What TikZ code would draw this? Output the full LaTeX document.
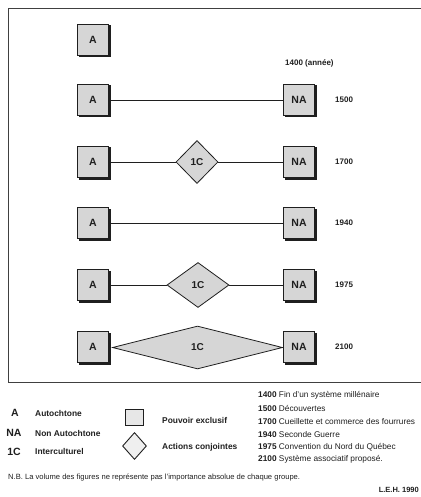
\documentclass[tikz,border=0pt]{standalone}
\usepackage{fontspec}
\setmainfont{Liberation Sans}
\usetikzlibrary{shapes.geometric}
\definecolor{boxfill}{gray}{0.84}
\definecolor{inkc}{gray}{0.12}
\tikzset{
  pbox/.style={draw=inkc, line width=0.9pt, fill=boxfill, minimum width=31pt, minimum height=31pt, inner sep=0pt, font=\fontsize{10.5}{11}\selectfont\bfseries, text=inkc},
  idia/.style={draw=inkc, line width=0.8pt, fill=boxfill, diamond, inner sep=0pt, font=\fontsize{10}{11}\selectfont\bfseries, text=inkc},
  conn/.style={draw=inkc, line width=0.7pt},
  yr/.style={anchor=west, inner sep=0pt, font=\fontsize{8}{9}\selectfont\bfseries, text=inkc},
  leg/.style={anchor=west, inner sep=0pt, font=\fontsize{8.4}{9}\selectfont\bfseries, text=inkc},
  legbig/.style={anchor=center, inner sep=0pt, font=\fontsize{10.5}{11}\selectfont\bfseries, text=inkc},
  lst/.style={anchor=west, inner sep=0pt, font=\fontsize{8.3}{9}\selectfont, text=inkc},
  shad/.style={fill=inkc}
}
\newcommand{\shbox}[4]{% name, x, y, label
  \fill[shad] (#2-14.5,#3-14.5) rectangle (#2+17.5,#3+17.5);
  \node[pbox] (#1) at (#2,#3) {#4};
}
\begin{document}
\begin{tikzpicture}[x=1pt,y=-1pt]
\useasboundingbox (0,0) rectangle (420,497);
% frame
\draw[draw=inkc!85, line width=1pt] (426,9) -- (8,9) -- (8,382) -- (426,382);
% rows
\shbox{a1}{93}{40}{A}
\shbox{a2}{93}{100}{A}
\shbox{na2}{299}{100}{NA}
\shbox{a3}{93}{162}{A}
\shbox{na3}{299}{162}{NA}
\shbox{a4}{93}{223}{A}
\shbox{na4}{299}{223}{NA}
\shbox{a5}{93}{285}{A}
\shbox{na5}{299}{285}{NA}
\shbox{a6}{93}{347}{A}
\shbox{na6}{299}{347}{NA}
\node[idia, minimum width=42pt, minimum height=43pt] (c3) at (197,162) {1C};
\node[idia, minimum width=62pt, minimum height=45pt] (c5) at (198,285) {1C};
\node[idia, minimum width=170pt, minimum height=43pt] (c6) at (197.5,347.5) {1C};
\draw[conn] (a2) -- (na2);
\draw[conn] (a3) -- (c3);
\draw[conn] (c3) -- (na3);
\draw[conn] (a4) -- (na4);
\draw[conn] (a5) -- (c5);
\draw[conn] (c5) -- (na5);
% year labels
\node[yr] (y1400) at (285,63) {1400 (année)};
\node[yr] (y1500) at (335,100) {1500};
\node[yr] (y1700) at (335,162) {1700};
\node[yr] (y1940) at (335,223) {1940};
\node[yr] (y1975) at (335,285) {1975};
\node[yr] (y2100) at (335,347) {2100};
% legend
\node[legbig] (lA) at (15,413) {A};
\node[legbig] (lNA) at (14,433) {NA};
\node[legbig] (l1C) at (14,452) {1C};
\node[leg] (tA) at (35,413) {Autochtone};
\node[leg] (tNA) at (35,433) {Non Autochtone};
\node[leg] (t1C) at (35,451) {Interculturel};
\node[draw=inkc, line width=0.9pt, fill=boxfill!60, minimum width=18pt, minimum height=16pt, inner sep=0pt] (lbox) at (134,417.5) {};
\node[draw=inkc, line width=0.9pt, fill=boxfill!40, diamond, inner sep=0pt, minimum width=24pt, minimum height=27pt] (ldia) at (134.5,446) {};
\node[leg] (tbox) at (162,420) {Pouvoir exclusif};
\node[leg] (tdia) at (162,447) {Actions conjointes};
\node[lst] (e1) at (258,395) {\textbf{1400}\ Fin d'un système millénaire};
\node[lst] (e2) at (258,408) {\textbf{1500}\ Découvertes};
\node[lst] (e3) at (258,421.5) {\textbf{1700}\ Cueillette et commerce des fourrures};
\node[lst] (e4) at (258,434.5) {\textbf{1940}\ Seconde Guerre};
\node[lst] (e5) at (258,447) {\textbf{1975}\ Convention du Nord du Québec};
\node[lst] (e6) at (258,459.5) {\textbf{2100}\ Système associatif proposé.};
\node[anchor=west, inner sep=0pt, font=\fontsize{7.6}{8}\selectfont, text=inkc] (nb) at (8,477) {N.B. La volume des figures ne représente pas l'importance absolue de chaque groupe.};
\node[anchor=east, inner sep=0pt, font=\fontsize{7.5}{8}\selectfont\bfseries, text=inkc] (leh) at (419,490) {L.E.H. 1990};
\end{tikzpicture}
\end{document}
